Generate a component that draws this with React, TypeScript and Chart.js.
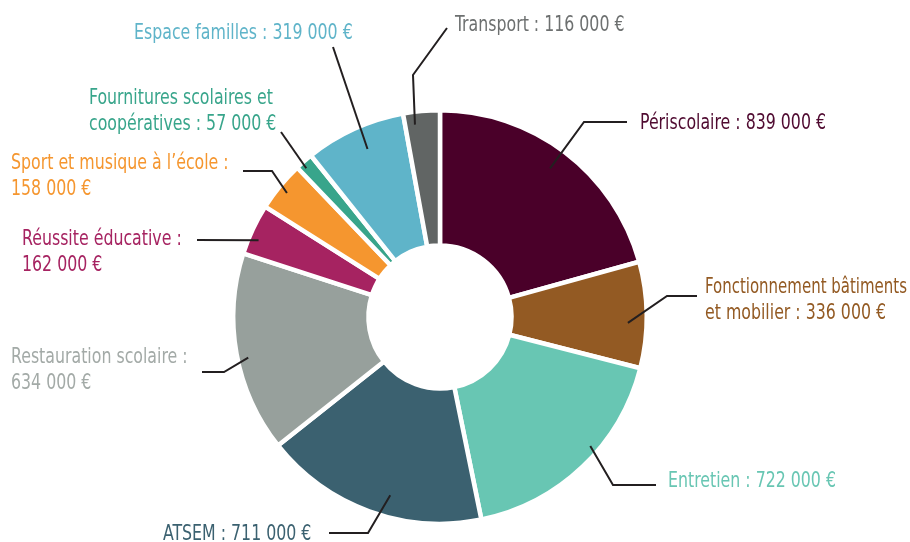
import React, { useEffect, useRef } from "react";
import { Chart, registerables } from "chart.js";

Chart.register(...registerables);

const categories = [
  "Périscolaire",
  "Fonctionnement bâtiments et mobilier",
  "Entretien",
  "ATSEM",
  "Restauration scolaire",
  "Réussite éducative",
  "Sport et musique à l’école",
  "Fournitures scolaires et coopératives",
  "Espace familles",
  "Transport",
];
const amounts = [839000, 336000, 722000, 711000, 634000, 162000, 158000, 57000, 319000, 116000];
const sliceColors = [
  "#4a0029", "#935a23", "#68c6b3", "#3b6170", "#97a09c",
  "#a62361", "#f5962f", "#38a58b", "#5fb4c9", "#616564",
];
const labelColors = [
  "#4f0a30", "#935a23", "#68c6b3", "#3b6170", "#a3aaa7",
  "#a62361", "#f5962f", "#38a58b", "#5fb4c9", "#6d7070",
];
// label text lines (as printed)
const labelLines = [
  ["Périscolaire : 839 000 €"],
  ["Fonctionnement bâtiments", "et mobilier : 336 000 €"],
  ["Entretien : 722 000 €"],
  ["ATSEM : 711 000 €"],
  ["Restauration scolaire :", "634 000 €"],
  ["Réussite éducative :", "162 000 €"],
  ["Sport et musique à l’école :", "158 000 €"],
  ["Fournitures scolaires et", "coopératives : 57 000 €"],
  ["Espace familles : 319 000 €"],
  ["Transport : 116 000 €"],
];

// annotation layout: leader start (fraction within slice, radius), bend points, text position
const leaderT = [0.49, 0.58, 0.41, 0.43, 0.47, 0.35, 0.48, 0.34, 0.54, 0.28];
const leaderR = [185, 188, 198, 185, 196, 197, 197, 200, 183, 194];
const leaderBends: number[][][] = [
  [[584, 122], [627, 122]],
  [[667, 296], [697, 296]],
  [[613, 485], [656, 485]],
  [[368, 533], [329, 533]],
  [[224, 372], [202, 372]],
  [[197, 240]],
  [[272, 171], [243, 171]],
  [[281, 132]],
  [[333, 47]],
  [[413, 75], [447, 28]],
];
const textPos: number[][] = [
  [640, 129],
  [705, 293],
  [668, 487],
  [163, 540],
  [11, 363],
  [22, 245],
  [11, 169],
  [89, 104],
  [134, 39],
  [455, 31],
];
const LINE_GAP = 25.5;
const FONT_SIZE = 21;
const FONT_FAMILY = "'Liberation Sans Narrow', 'DejaVu Sans Condensed', 'Roboto Condensed', Roboto, sans-serif";
const REF_TEXT_WIDTH = 186; // width of "Périscolaire : 839 000 €"
const CANVAS_W = 910;

const labelPlugin = {
  id: "leaderLabels",
  afterDraw(chart: any) {
    const ctx = chart.ctx as CanvasRenderingContext2D;
    const meta = chart.getDatasetMeta(0);
    ctx.save();
    ctx.font = `${FONT_SIZE}px ${FONT_FAMILY}`;
    const sx = REF_TEXT_WIDTH / ctx.measureText(labelLines[0][0]).width;
    meta.data.forEach((arc: any, i: number) => {
      const { x, y, startAngle, endAngle } = arc.getProps(["x", "y", "startAngle", "endAngle"], true);
      const a = startAngle + (endAngle - startAngle) * leaderT[i];
      const r = leaderR[i];
      ctx.beginPath();
      ctx.moveTo(x + r * Math.cos(a), y + r * Math.sin(a));
      leaderBends[i].forEach((p) => ctx.lineTo(p[0], p[1]));
      ctx.strokeStyle = "#231f20";
      ctx.lineWidth = 2;
      ctx.lineJoin = "miter";
      ctx.stroke();

      ctx.fillStyle = labelColors[i];
      ctx.textAlign = "left";
      ctx.textBaseline = "alphabetic";
      const maxW = (CANVAS_W - 3 - textPos[i][0]) / sx;
      labelLines[i].forEach((line, k) => {
        ctx.save();
        ctx.translate(textPos[i][0], textPos[i][1] + k * LINE_GAP);
        ctx.scale(sx, 1);
        ctx.fillText(line, 0, 0, maxW);
        ctx.restore();
      });
    });
    ctx.restore();
  },
};

export default function App() {
  const ref = useRef<HTMLCanvasElement>(null);
  useEffect(() => {
    if (!ref.current) return;
    const chart = new Chart(ref.current, {
      type: "doughnut",
      data: {
        labels: categories,
        datasets: [
          {
            data: amounts,
            backgroundColor: sliceColors,
            borderColor: "#ffffff",
            borderWidth: 4.5,
            hoverOffset: 0,
          },
        ],
      },
      options: {
        responsive: false,
        animation: false,
        radius: 206.75,
        cutout: "34.6%",
        layout: { padding: { top: 92, right: 30, left: 0, bottom: 0 } },
        plugins: { legend: { display: false }, tooltip: { enabled: false } },
        events: [],
      } as any,
      plugins: [labelPlugin],
    });
    return () => chart.destroy();
  }, []);
  return (
    <div style={{ position: "absolute", left: 0, top: 0, width: 910, height: 542, background: "#fff" }}>
      <canvas ref={ref} width={910} height={542} style={{ display: "block" }} />
    </div>
  );
}
